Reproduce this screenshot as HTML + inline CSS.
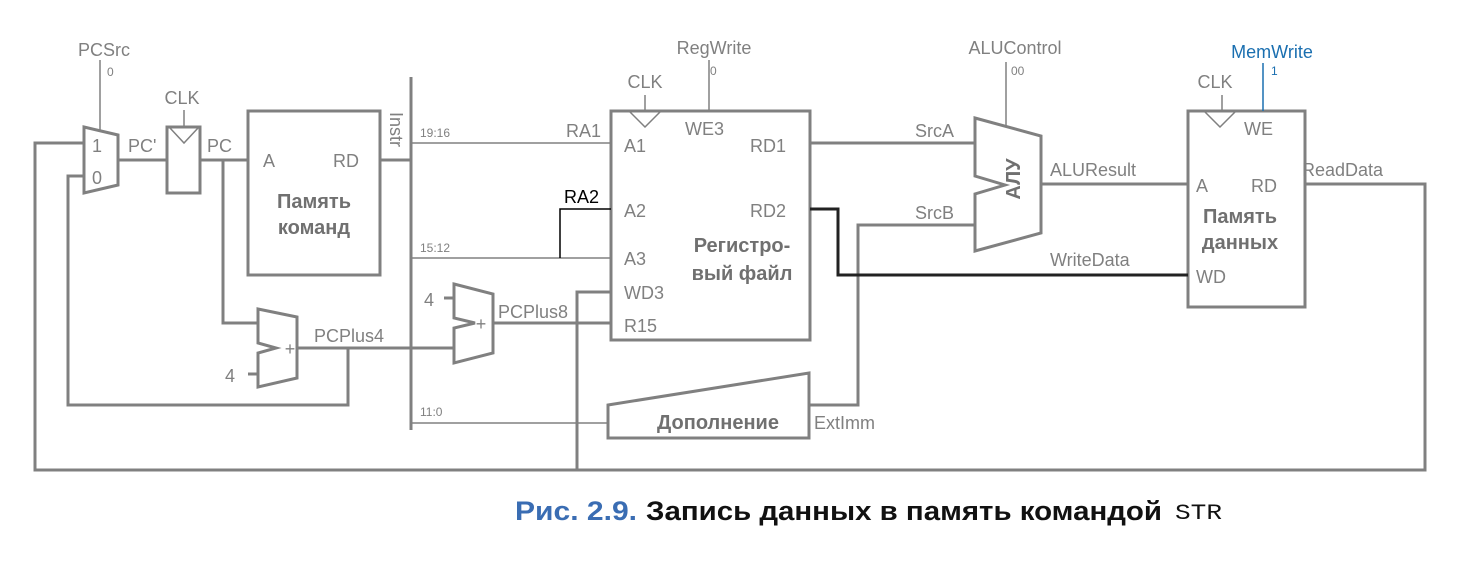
<!DOCTYPE html>
<html><head><meta charset="utf-8"><style>
body{margin:0;background:#fff;width:1476px;height:562px;overflow:hidden}
svg{display:block}
text{font-family:"Liberation Sans",sans-serif;fill:#808080}
.l{font-size:18px}
.s{font-size:12px}
.b{font-weight:bold;font-size:20px;fill:#707070}
</style></head><body>
<svg width="1476" height="562" viewBox="0 0 1476 562">
<g fill="none" stroke="#808080" stroke-width="3">
<polygon points="84,127 118,135 118,185 84,193"/>
<polyline points="84,143 35,143 35,470 1425,470 1425,184 1305,184"/>
<polyline points="84,176 68,176 68,405 348,405 348,348"/>
<line x1="118" y1="160" x2="167" y2="160"/>
<rect x="167" y="127" width="33" height="66"/>
<line x1="200" y1="160" x2="248" y2="160"/>
<polyline points="223,160 223,323 258,323"/>
<rect x="248" y="111" width="132" height="164"/>
<line x1="380" y1="160" x2="411" y2="160"/>
<line x1="411" y1="77" x2="411" y2="430"/>
<polygon points="258,309 297,317 297,378 258,387 258,353 276,348 258,343"/>
<line x1="248" y1="374" x2="258" y2="374"/>
<line x1="297" y1="348" x2="454" y2="348"/>
<polygon points="454,284 493,294 493,353 454,363 454,328 475,323 454,318"/>
<line x1="444" y1="298" x2="454" y2="298"/>
<line x1="493" y1="323" x2="611" y2="323"/>
<polyline points="577,470 577,292 611,292"/>
<rect x="611" y="111" width="199" height="229"/>
<line x1="810" y1="143" x2="975" y2="143"/>
<polygon points="975,118 1041,136 1041,233 975,251 975,194 1005,185 975,176"/>
<line x1="1041" y1="184" x2="1188" y2="184"/>
<polyline points="975,225 858,225 858,405 809,405"/>
<rect x="1188" y="111" width="117" height="196"/>
<polygon points="608,405 809,373 809,438 608,438"/>
</g>
<g fill="none" stroke="#808080" stroke-width="1.5">
<line x1="100" y1="60" x2="100" y2="131"/>
<line x1="184" y1="110" x2="184" y2="127"/>
<polyline points="170,128 184,143 198,128"/>
<line x1="411" y1="143" x2="611" y2="143"/>
<line x1="411" y1="258" x2="611" y2="258"/>
<line x1="411" y1="423" x2="608" y2="423"/>
<line x1="645" y1="95" x2="645" y2="111"/>
<polyline points="630,112 645,127 660,112"/>
<line x1="709" y1="60" x2="709" y2="111"/>
<line x1="1006" y1="62" x2="1006" y2="126"/>
<line x1="1222" y1="95" x2="1222" y2="111"/>
<polyline points="1205,112 1220,127 1235,112"/>
</g>
<line x1="1263" y1="63" x2="1263" y2="111" stroke="#1a6fb0" stroke-width="1.5"/>
<polyline points="560,258 560,209 611,209" fill="none" stroke="#000" stroke-width="1.5"/>
<polyline points="810,209 838,209 838,275 1188,275" fill="none" stroke="#222" stroke-width="3"/>
<text class="l" x="104" y="56" text-anchor="middle">PCSrc</text>
<text class="s" x="107" y="76">0</text>
<text class="l" x="97" y="152" text-anchor="middle">1</text>
<text class="l" x="97" y="184" text-anchor="middle">0</text>
<text class="l" x="128" y="152">PC'</text>
<text class="l" x="182" y="104" text-anchor="middle">CLK</text>
<text class="l" x="207" y="152">PC</text>
<text class="l" x="263" y="167">A</text>
<text class="l" x="333" y="167">RD</text>
<text class="b" x="314" y="208" text-anchor="middle">Память</text>
<text class="b" x="314" y="234" text-anchor="middle">команд</text>
<text class="l" x="390" y="112" transform="rotate(90 390 112)">Instr</text>
<text class="s" x="420" y="137">19:16</text>
<text class="s" x="420" y="252">15:12</text>
<text class="s" x="420" y="416">11:0</text>
<text class="l" x="290" y="355" text-anchor="middle">+</text>
<text class="l" x="225" y="382">4</text>
<text class="l" x="314" y="342">PCPlus4</text>
<text class="l" x="481" y="330" text-anchor="middle">+</text>
<text class="l" x="424" y="306">4</text>
<text class="l" x="498" y="318">PCPlus8</text>
<text class="l" x="566" y="137">RA1</text>
<text class="l" x="564" y="203" style="fill:#000">RA2</text>
<text class="l" x="645" y="88" text-anchor="middle">CLK</text>
<text class="l" x="714" y="54" text-anchor="middle">RegWrite</text>
<text class="s" x="710" y="75">0</text>
<text class="l" x="685" y="135">WE3</text>
<text class="l" x="624" y="152">A1</text>
<text class="l" x="750" y="152">RD1</text>
<text class="l" x="624" y="217">A2</text>
<text class="l" x="750" y="217">RD2</text>
<text class="l" x="624" y="265">A3</text>
<text class="l" x="624" y="299">WD3</text>
<text class="l" x="624" y="332">R15</text>
<text class="b" x="742" y="252" text-anchor="middle">Регистро-</text>
<text class="b" x="742" y="280" text-anchor="middle">вый файл</text>
<text class="l" x="915" y="137">SrcA</text>
<text class="l" x="915" y="219">SrcB</text>
<text class="b" x="1026" y="185" text-anchor="middle" transform="rotate(-90 1020 185)">АЛУ</text>
<text class="l" x="1015" y="54" text-anchor="middle">ALUControl</text>
<text class="s" x="1011" y="75">00</text>
<text class="l" x="1050" y="176">ALUResult</text>
<text class="l" x="1050" y="266">WriteData</text>
<text class="l" x="1215" y="88" text-anchor="middle">CLK</text>
<text class="l" x="1272" y="58" text-anchor="middle" style="fill:#1a6fb0">MemWrite</text>
<text class="s" x="1271" y="75" style="fill:#1a6fb0">1</text>
<text class="l" x="1244" y="135">WE</text>
<text class="l" x="1196" y="192">A</text>
<text class="l" x="1251" y="192">RD</text>
<text class="b" x="1240" y="223" text-anchor="middle">Память</text>
<text class="b" x="1240" y="249" text-anchor="middle">данных</text>
<text class="l" x="1196" y="283">WD</text>
<text class="l" x="1302" y="176">ReadData</text>
<text class="b" x="718" y="429" text-anchor="middle">Дополнение</text>
<text class="l" x="814" y="429">ExtImm</text>
<text x="515" y="520" textLength="122" lengthAdjust="spacingAndGlyphs" style="font-size:27px;font-weight:bold;fill:#3a6db3">Рис. 2.9.</text>
<text x="646" y="520" textLength="516" lengthAdjust="spacingAndGlyphs" style="font-size:27px;font-weight:bold;fill:#111">Запись данных в память командой</text>
<text x="1175" y="519" textLength="47" lengthAdjust="spacingAndGlyphs" style="font-size:22px;font-family:'Liberation Mono',monospace;fill:#111">STR</text>
</svg>
</body></html>
